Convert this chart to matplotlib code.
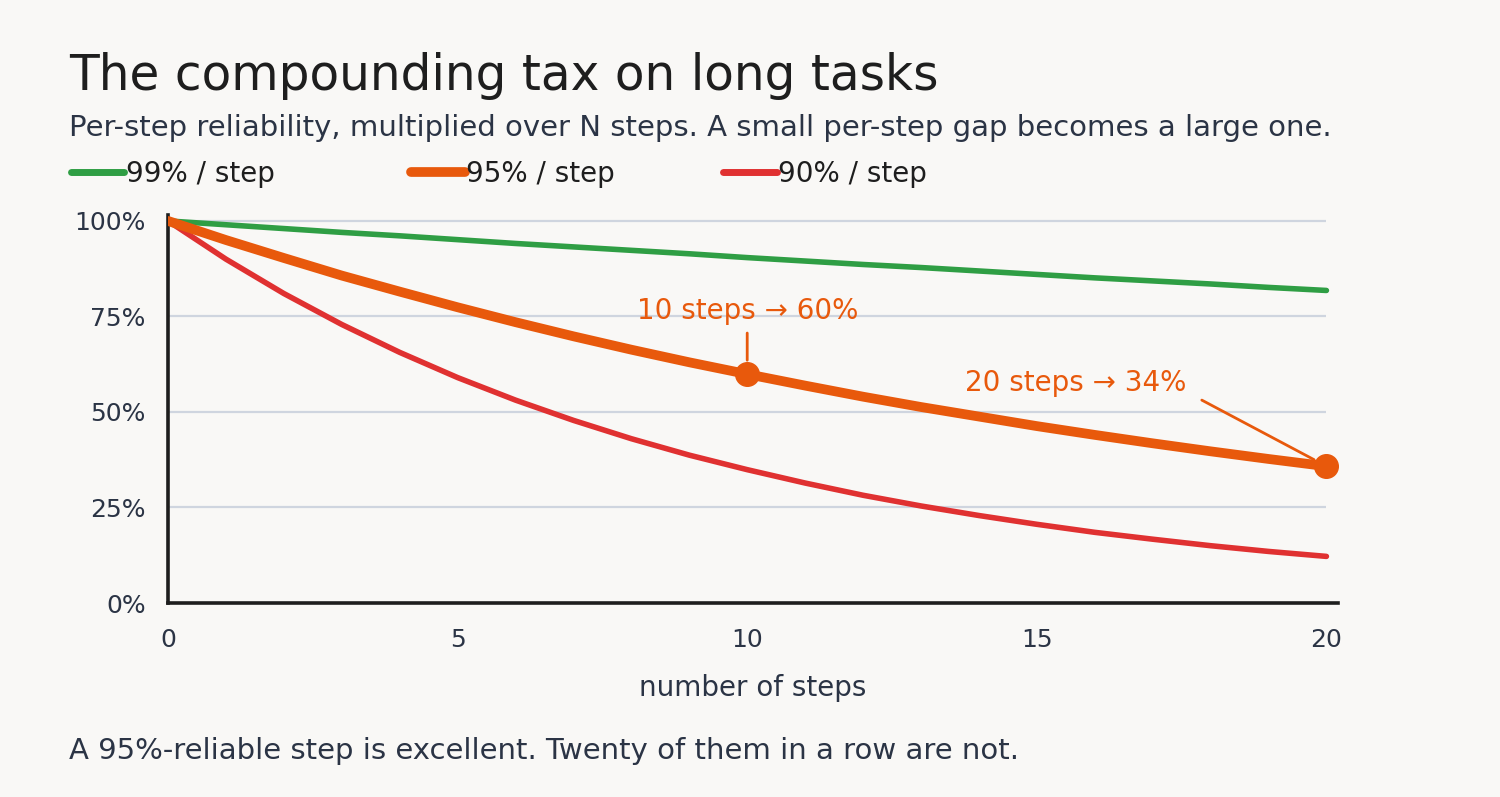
import matplotlib
matplotlib.use('Agg')
from matplotlib import pyplot as plt
from matplotlib.lines import Line2D

# share of runs that survive n steps
steps = list(range(21))
rel_99 = [1.000, 0.990, 0.980, 0.970, 0.961, 0.951, 0.941, 0.932, 0.923, 0.914, 0.904,
          0.895, 0.886, 0.878, 0.869, 0.860, 0.851, 0.843, 0.835, 0.826, 0.818]
rel_95 = [1.000, 0.950, 0.903, 0.857, 0.815, 0.774, 0.735, 0.698, 0.663, 0.630, 0.599,
          0.569, 0.540, 0.513, 0.488, 0.463, 0.440, 0.418, 0.397, 0.377, 0.358]
rel_90 = [1.000, 0.900, 0.810, 0.729, 0.656, 0.590, 0.531, 0.478, 0.430, 0.387, 0.349,
          0.314, 0.282, 0.254, 0.229, 0.206, 0.185, 0.167, 0.150, 0.135, 0.122]
series_labels = ['99% / step', '95% / step', '90% / step']
y_ticks = [0, 0.25, 0.5, 0.75, 1.0]
y_tick_labels = ['0%', '25%', '50%', '75%', '100%']
x_ticks = [0, 5, 10, 15, 20]
callout_steps = [10, 20]
callout_text = ['10 steps \u2192 60%', '20 steps \u2192 34%']

bg = '#f9f8f6'
ink = '#1e1e1e'
navy = '#2b3445'
green = '#2f9e44'
orange = '#e8590c'
red = '#e03131'
grid_c = '#cfd5df'

plt.rcParams['font.family'] = ['DejaVu Sans']

fig = plt.figure(figsize=(15, 7.97), dpi=100, facecolor=bg)
ax = fig.add_axes([0.112, 0.2434, 0.78, 0.4866])
ax.set_facecolor(bg)

ax.set_xlim(0, 20.2)
ax.set_ylim(0, 1.015)

for t in y_ticks[1:]:
    ax.hlines(t, 0, 20, color=grid_c, linewidth=1.6, zorder=1)

ax.plot(steps, rel_99, color=green, linewidth=4, solid_capstyle='round',
        solid_joinstyle='round', zorder=3)
ax.plot(steps, rel_90, color=red, linewidth=4, solid_capstyle='round',
        solid_joinstyle='round', zorder=3)
ax.plot(steps, rel_95, color=orange, linewidth=7, solid_capstyle='round',
        solid_joinstyle='round', zorder=4)

# callout dots on the 95% curve
for s in callout_steps:
    ax.plot(s, rel_95[s], 'o', color=orange, markersize=17, zorder=5)

ax.annotate(callout_text[0], xy=(callout_steps[0], rel_95[10]), xytext=(10, 0.765),
            ha='center', va='center', color=orange, fontsize=20,
            arrowprops=dict(arrowstyle='-', color=orange, lw=2,
                            shrinkA=4, shrinkB=10))
ax.annotate(callout_text[1], xy=(callout_steps[1], rel_95[20]), xytext=(15.67, 0.575),
            ha='center', va='center', color=orange, fontsize=20,
            arrowprops=dict(arrowstyle='-', color=orange, lw=2,
                            shrinkA=0, shrinkB=10,
                            relpos=(1.07, -0.1)))

for side in ['top', 'right']:
    ax.spines[side].set_visible(False)
for side in ['left', 'bottom']:
    ax.spines[side].set_color(ink)
    ax.spines[side].set_linewidth(2.6)

ax.set_yticks(y_ticks)
ax.set_yticklabels(y_tick_labels)
ax.set_xticks(x_ticks)
ax.tick_params(length=0, labelsize=18, colors=navy)
ax.tick_params(axis='x', pad=18)
ax.tick_params(axis='y', pad=16)
ax.set_xlabel('number of steps', fontsize=20, color=navy, labelpad=16)

fig.text(0.046, 0.905, 'The compounding tax on long tasks', fontsize=35,
         color=ink, ha='left', va='center')
fig.text(0.046, 0.84, 'Per-step reliability, multiplied over N steps. '
         'A small per-step gap becomes a large one.',
         fontsize=21, color=navy, ha='left', va='center')

# legend row, drawn by hand across the top
legend_x = [0.047, 0.274, 0.482]
for lx, lab, col, lw in zip(legend_x, series_labels, [green, orange, red], [5, 7, 5]):
    fig.add_artist(Line2D([lx, lx + 0.036], [0.784, 0.784], color=col, linewidth=lw,
                          solid_capstyle='round', transform=fig.transFigure))
    fig.text(lx + 0.037, 0.782, lab, fontsize=20, color=ink, ha='left', va='center')

fig.text(0.046, 0.058, 'A 95%-reliable step is excellent. Twenty of them in a row are not.',
         fontsize=21, color=navy, ha='left', va='center')

fig.savefig('out.png', dpi=100, facecolor=bg)
